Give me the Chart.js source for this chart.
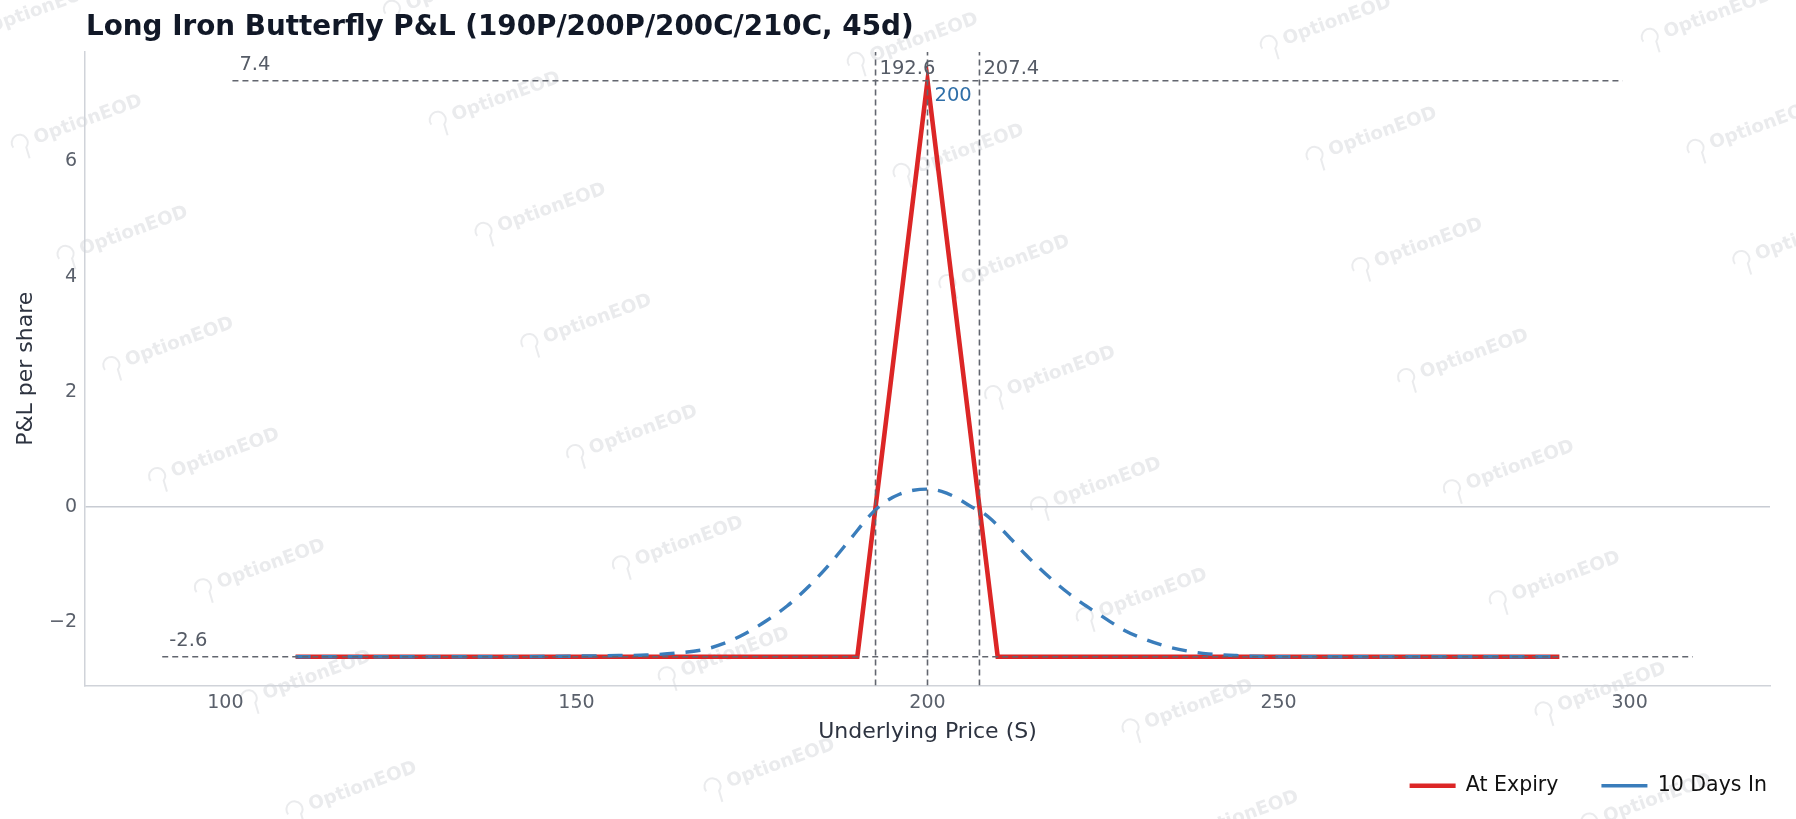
<!DOCTYPE html>
<html>
<head>
<meta charset="utf-8">
<script src="https://cdn.jsdelivr.net/npm/chart.js@4.4.0/dist/chart.umd.min.js"></script>
<style>
  html, body { margin: 0; padding: 0; background: #fff; }
  #wrap { width: 1796px; height: 819px; }
</style>
</head>
<body>
<div id="wrap"><canvas id="graficoPL"></canvas></div>
<script>
const titulo = "Long Iron Butterfly P&L (190P/200P/200C/210C, 45d)";

// payoff at expiry
const precoExpiry = [110, 190, 200, 210, 290];
const plExpiry = [-2.6, -2.6, 7.4, -2.6, -2.6];

// 10 days in
const preco10d = [110, 120, 130, 140, 150, 156, 160, 164, 168, 171, 174, 177, 180, 183, 186, 189, 192, 194, 196, 198,
                  200, 202, 204, 206, 208, 210, 212, 214, 216, 218, 220, 222, 224, 226, 228, 231, 234, 237, 240, 244,
                  250, 260, 270, 280, 290];
const pl10d = [-2.6, -2.6, -2.6, -2.6, -2.59, -2.58, -2.57, -2.54, -2.48, -2.37, -2.2, -1.98, -1.72, -1.39, -1.0, -0.56, -0.12, 0.09, 0.22, 0.29,
               0.31, 0.27, 0.17, 0.02, -0.11, -0.32, -0.57, -0.83, -1.07, -1.29, -1.49, -1.67, -1.83, -1.99, -2.14, -2.3, -2.42, -2.5, -2.55, -2.58,
               -2.6, -2.6, -2.6, -2.6, -2.6];

// max profit / max loss levels
const niveis = [7.4, -2.6];
const niveisTexto = ["7.4", "-2.6"];
const nivelDe = [101, 91];
const nivelAte = [299, 309];

// breakevens and center strike
const verticais = [192.6, 200, 207.4];
const verticaisTexto = ["192.6", "200", "207.4"];

const xTicks = [100, 150, 200, 250, 300];
const yTicks = [-2, 0, 2, 4, 6];

Chart.defaults.font.family = "'DejaVu Sans', sans-serif";

function pontos(xs, ys) {
  return xs.map((x, i) => ({ x: x, y: ys[i] }));
}

const datasets = [
  {
    label: "At Expiry",
    data: pontos(precoExpiry, plExpiry),
    borderColor: "#dc2626",
    backgroundColor: "#dc2626",
    borderWidth: 4.6,
    pointRadius: 0,
    tension: 0,
    order: 2
  },
  {
    label: "10 Days In",
    data: pontos(preco10d, pl10d),
    borderColor: "#3a7dbb",
    backgroundColor: "#3a7dbb",
    borderWidth: 3.4,
    borderDash: [15, 11],
    pointRadius: 0,
    cubicInterpolationMode: "monotone",
    order: 1
  }
];

niveis.forEach((v, i) => {
  datasets.push({
    label: "nivel" + i,
    ref: true,
    data: [{ x: nivelDe[i], y: v }, { x: nivelAte[i], y: v }],
    borderColor: "#62666f",
    borderWidth: 1.6,
    borderDash: [6, 4],
    pointRadius: 0,
    order: 0
  });
});

verticais.forEach((v, i) => {
  datasets.push({
    label: "vert" + i,
    ref: true,
    data: [{ x: v, y: -3.1 }, { x: v, y: 7.9 }],
    borderColor: "#62666f",
    borderWidth: 1.6,
    borderDash: [6, 4],
    pointRadius: 0,
    order: 0
  });
});

// faint watermark (text centres of each diagonal column)
const marcaInicio = [[88, 120], [506, 97], [924, 38], [1337, 21], [1718, 14]];
const marcaPasso = [45.8, 111.1];

const marcaPlugin = {
  id: "marca",
  beforeDraw(chart) {
    const ctx = chart.ctx;
    ctx.save();
    ctx.font = "bold 18.5px 'DejaVu Sans'";
    ctx.fillStyle = "rgba(160,162,172,0.22)";
    ctx.strokeStyle = "rgba(160,162,172,0.22)";
    ctx.lineWidth = 2;
    ctx.textAlign = "center";
    ctx.textBaseline = "middle";
    marcaInicio.forEach(p => {
      for (let k = -1; k < 9; k++) {
        const cx = p[0] + k * marcaPasso[0];
        const cy = p[1] + k * marcaPasso[1];
        if (cy < -40 || cy > 860 || cx > 1840) continue;
        ctx.save();
        ctx.translate(cx, cy);
        ctx.rotate(-20 * Math.PI / 180);
        ctx.beginPath();
        ctx.arc(-72, -2, 8, Math.PI * 0.9, Math.PI * 2.3);
        ctx.lineTo(-68, 16);
        ctx.stroke();
        ctx.fillText("OptionEOD", 0, 0);
        ctx.restore();
      }
    });
    ctx.restore();
  }
};

const tituloPlugin = {
  id: "titulo",
  afterDraw(chart) {
    const ctx = chart.ctx;
    ctx.save();
    ctx.font = "bold 27.8px 'DejaVu Sans'";
    ctx.fillStyle = "#111827";
    ctx.textBaseline = "alphabetic";
    ctx.textAlign = "left";
    ctx.fillText(titulo, chart.chartArea.left + 1, 35);
    ctx.restore();
  }
};

const rotulosPlugin = {
  id: "rotulos",
  afterDatasetsDraw(chart) {
    const ctx = chart.ctx;
    const sx = chart.scales.x, sy = chart.scales.y;
    ctx.save();
    ctx.font = "19.5px 'DejaVu Sans'";
    ctx.textAlign = "left";
    ctx.textBaseline = "middle";
    ctx.fillStyle = "#555b66";
    niveis.forEach((v, i) => {
      ctx.fillText(niveisTexto[i], sx.getPixelForValue(nivelDe[i] + 1), sy.getPixelForValue(v) - 16);
    });
    verticais.forEach((v, i) => {
      if (v === 200) {
        ctx.fillStyle = "#2f6fa8";
        ctx.fillText(verticaisTexto[i], sx.getPixelForValue(v) + 7, sy.getPixelForValue(niveis[0]) + 15);
      } else {
        ctx.fillStyle = "#555b66";
        ctx.fillText(verticaisTexto[i], sx.getPixelForValue(v) + 4, sy.getPixelForValue(niveis[0]) - 12);
      }
    });
    ctx.restore();
  }
};

// move legend box down/right to sit like the original
const legendaPlugin = {
  id: "legendaPos",
  afterLayout(chart) {
    const lg = chart.legend;
    lg.left += 40; lg.right += 40;
    lg.top -= 13; lg.bottom -= 13;
  }
};

new Chart(document.getElementById("graficoPL"), {
  type: "line",
  data: { datasets: datasets },
  plugins: [marcaPlugin, tituloPlugin, rotulosPlugin, legendaPlugin],
  options: {
    responsive: true,
    maintainAspectRatio: false,
    animation: false,
    layout: { padding: { top: 52, left: 0, right: 26, bottom: 0 } },
    plugins: {
      tooltip: { enabled: false },
      legend: {
        display: true,
        position: "bottom",
        align: "end",
        labels: {
          usePointStyle: true,
          pointStyle: "line",
          pointStyleWidth: 46,
          padding: 43,
          color: "#111111",
          font: { size: 20.5 },
          filter: (item, data) => !data.datasets[item.datasetIndex].ref,
          sort: (a, b) => a.datasetIndex - b.datasetIndex
        }
      }
    },
    scales: {
      x: {
        type: "linear",
        min: 80,
        max: 320,
        afterFit: s => { s.height = 60; },
        afterBuildTicks: s => { s.ticks = xTicks.map(v => ({ value: v })); },
        grid: { display: false, drawTicks: false },
        border: { display: true, color: "#d0d3d9", width: 1.5 },
        ticks: { padding: 6, color: "#5a606b", font: { size: 19 } },
        title: {
          display: true,
          text: "Underlying Price (S)",
          color: "#2d3340",
          font: { size: 22 },
          padding: { top: 0, bottom: 0 }
        }
      },
      y: {
        type: "linear",
        min: -3.1,
        max: 7.9,
        afterFit: s => { s.width = 85; },
        afterBuildTicks: s => { s.ticks = yTicks.map(v => ({ value: v })); },
        grid: {
          drawTicks: false,
          lineWidth: 1.5,
          color: c => (c.tick && c.tick.value === 0 ? "#c8ccd3" : "rgba(0,0,0,0)")
        },
        border: { display: true, color: "#d0d3d9", width: 1.5 },
        ticks: {
          padding: 8,
          color: "#5a606b",
          font: { size: 19 },
          callback: v => String(v).replace("-", "\u2212")
        },
        title: {
          display: true,
          text: "P&L per share",
          color: "#2d3340",
          font: { size: 22 },
          padding: { top: 13, bottom: 0 }
        }
      }
    }
  }
});
</script>
</body>
</html>
